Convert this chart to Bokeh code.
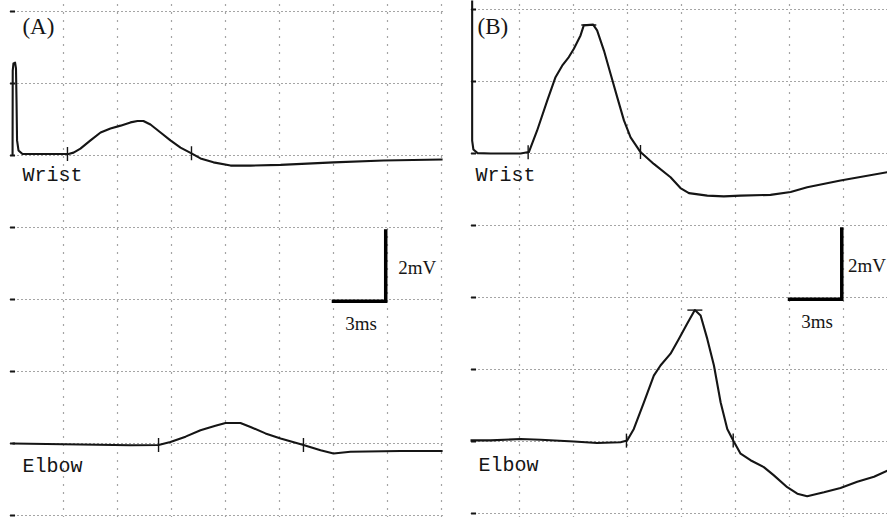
import numpy as np
from bokeh.plotting import figure
from bokeh.layouts import row
from bokeh.models import FixedTicker, Range1d
from bokeh.embed import file_html
from bokeh.resources import INLINE
from bokeh.core.properties import value

# ---------------- data (time in ms, amplitude in mV) ----------------
# Panel A
a_wrist_t = [0.17, 0.18, 0.22, 0.31, 0.36, 0.39, 0.42, 0.5, 0.72, 1.72, 3.28, 3.56, 3.94, 4.5, 5.06,
             5.61, 6.17, 6.72, 7.11, 7.44, 7.83, 8.39, 8.94, 9.5, 10.11, 10.61, 11.33, 12.28, 13.39,
             15.06, 18.0, 20.78, 24.06]
a_wrist_v = [0.0, 2.36, 2.56, 2.58, 2.42, 1.53, 0.42, 0.14, 0.04, 0.04, 0.04, 0.08, 0.19, 0.42, 0.64,
             0.75, 0.83, 0.92, 0.96, 0.96, 0.86, 0.64, 0.42, 0.22, 0.06, -0.08, -0.19, -0.28, -0.28,
             -0.26, -0.19, -0.14, -0.11]
a_elbow_t = [0.17, 3.94, 6.72, 8.28, 8.94, 9.78, 10.61, 11.44, 12.0, 12.83, 13.39, 14.22, 15.06,
             16.33, 17.28, 18.0, 18.94, 21.72, 24.06]
a_elbow_v = [0.0, -0.03, -0.05, -0.04, 0.04, 0.19, 0.37, 0.49, 0.57, 0.57, 0.46, 0.28, 0.14,
             -0.04, -0.19, -0.28, -0.23, -0.21, -0.21]
a_wrist_marks = [3.22, 10.11]
a_elbow_marks = [8.28, 16.33]

# Panel B
b_wrist_t = [0.37, 0.37, 0.44, 0.67, 1.39, 3.06, 3.52, 3.98, 4.54, 5.0, 5.37, 5.74, 6.02, 6.39, 6.57,
             7.09, 7.31, 7.69, 8.06, 8.43, 8.8, 9.17, 9.72, 10.46, 11.39, 11.94, 12.41, 13.43, 14.35,
             15.28, 16.94, 18.06, 18.98, 20.83, 23.43]
b_wrist_v = [4.5, 0.36, 0.11, 0.01, 0.0, 0.0, 0.04, 0.64, 1.47, 2.12, 2.44, 2.68, 2.91, 3.28, 3.56,
             3.58, 3.42, 2.86, 2.21, 1.56, 0.92, 0.45, 0.04, -0.29, -0.66, -0.96, -1.1, -1.17, -1.19,
             -1.17, -1.15, -1.07, -0.94, -0.75, -0.52]
b_elbow_t = [0.18, 1.39, 3.06, 4.17, 6.02, 7.31, 8.61, 8.98, 9.35, 9.91, 10.46, 10.83, 11.39, 11.85,
             12.31, 12.74, 13.06, 13.43, 13.8, 14.17, 14.54, 14.87, 15.28, 15.83, 16.57, 17.13, 17.87,
             18.43, 18.98, 19.91, 20.83, 21.76, 22.69, 23.43]
b_elbow_v = [0.03, 0.03, 0.07, 0.05, 0.0, -0.04, -0.02, 0.03, 0.35, 1.09, 1.83, 2.11, 2.44, 2.85,
             3.27, 3.65, 3.5, 2.85, 2.11, 1.09, 0.35, 0.03, -0.34, -0.52, -0.71, -0.94, -1.27,
             -1.45, -1.52, -1.41, -1.29, -1.12, -0.98, -0.81]
b_wrist_marks = [3.48, 9.72]
b_elbow_marks = [8.94, 14.87]
b_wrist_peak = [6.85]
b_elbow_peak = [12.74]

elbow_offset = -8.0      # mV, vertical separation of the elbow trace
scale_ms = 3.0
scale_mv = 2.0

INK = "#151515"
GRID = "#4a4a4a"


def make_panel(width, bl, br, xr, yr, label, wt, wv, et, ev, wmarks, emarks,
               wpeak=None, epeak=None, label_pos=None, wrist_pos=None, elbow_pos=None,
               mv_dx=0.7):
    p = figure(width=width, height=517, output_backend="svg", toolbar_location=None,
               x_axis_location=None, y_axis_location=None,
               x_range=Range1d(*xr), y_range=Range1d(*yr),
               min_border_left=bl, min_border_right=br, min_border_top=0, min_border_bottom=0)
    p.outline_line_color = None
    p.background_fill_color = "white"
    p.border_fill_color = "white"
    p.xgrid.ticker = FixedTicker(ticks=[3, 6, 9, 12, 15, 18, 21, 24])
    p.ygrid.ticker = FixedTicker(ticks=[-10, -8, -6, -4, -2, 0, 2, 4])
    p.xgrid.grid_line_color = GRID
    p.ygrid.grid_line_color = GRID
    p.xgrid.grid_line_dash = "1 7"
    p.ygrid.grid_line_dash = "1 3"
    p.xgrid.grid_line_width = 1.2
    p.ygrid.grid_line_width = 1.2

    # left-edge level marks
    lv = [4, 2, 0, -2, -4, -6, -8, -10]
    p.scatter(x=[xr[0] + 0.17] * len(lv), y=lv, marker="dash", size=5, line_width=2, line_color=INK)

    ev_off = [v + elbow_offset for v in ev]
    p.line(wt, wv, line_color=INK, line_width=2.1, line_join="round")
    p.line(et, ev_off, line_color=INK, line_width=2.1, line_join="round")

    # latency marks
    wm_v = list(np.interp(wmarks, wt, wv))
    em_v = list(np.interp(emarks, et, ev_off))
    p.scatter(x=wmarks + emarks, y=wm_v + em_v, marker="dash", angle=np.pi / 2, size=14,
              line_width=1.4, line_color=INK)
    if wpeak is not None:
        pk_v = list(np.interp(wpeak, wt, wv)) + list(np.interp(epeak, et, ev_off))
        p.scatter(x=wpeak + epeak, y=pk_v, marker="dash", size=15, line_width=1.4, line_color=INK)

    # scale bar
    sx0, sv0 = 17.9, -4.05
    p.line([sx0, sx0 + scale_ms, sx0 + scale_ms], [sv0, sv0, sv0 + scale_mv],
           line_color="black", line_width=3.5, line_join="miter", line_cap="butt")
    p.text(x=[sx0 + scale_ms + mv_dx], y=[sv0 + 0.95], text=[f"{scale_mv:g}mV"],
           text_font=value("Liberation Serif"), text_font_size="19px", text_color=INK,
           text_baseline="alphabetic", text_align="left")
    p.text(x=[sx0 + 0.75], y=[sv0 - 0.63], text=[f"{scale_ms:g}ms"],
           text_font=value("Liberation Serif"), text_font_size="19px", text_color=INK,
           text_baseline="alphabetic", text_align="left")

    p.text(x=[label_pos[0]], y=[label_pos[1]], text=[label],
           text_font=value("Liberation Serif"), text_font_size="23px", text_color=INK,
           text_baseline="alphabetic", text_align="left")
    p.text(x=[wrist_pos[0], elbow_pos[0]], y=[wrist_pos[1], elbow_pos[1]], text=["Wrist", "Elbow"],
           text_font=value("Liberation Mono"), text_font_size="20px", text_color=INK,
           text_baseline="alphabetic", text_align="left")
    return p


pa = make_panel(455, 9, 12, (0.0, 24.11), (-10.056, 4.306), "(A)",
                a_wrist_t, a_wrist_v, a_elbow_t, a_elbow_v, a_wrist_marks, a_elbow_marks,
                label_pos=(0.72, 3.59), wrist_pos=(0.72, -0.55), elbow_pos=(0.72, -8.63),
                mv_dx=0.7)
pb = make_panel(432, 15, 0, (0.278, 23.44), (-10.111, 4.25), "(B)",
                b_wrist_t, b_wrist_v, b_elbow_t, b_elbow_v, b_wrist_marks, b_elbow_marks,
                wpeak=b_wrist_peak, epeak=b_elbow_peak,
                label_pos=(0.67, 3.53), wrist_pos=(0.56, -0.61), elbow_pos=(0.72, -8.66),
                mv_dx=0.35)

layout = row(pa, pb, spacing=0)
open("out.html", "w").write(file_html(layout, INLINE))
